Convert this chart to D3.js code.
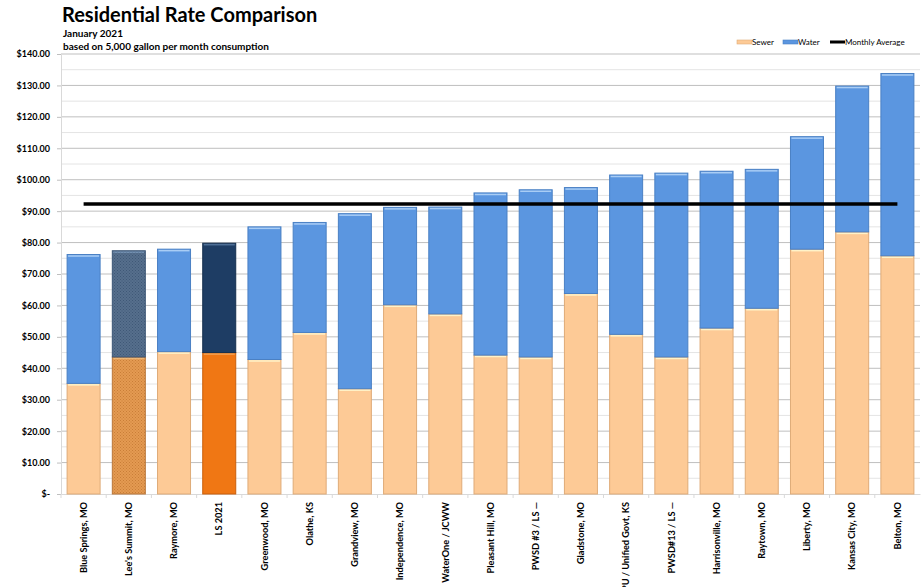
<!DOCTYPE html>
<html>
<head>
<meta charset="utf-8">
<script src="https://cdn.jsdelivr.net/npm/d3@7"></script>
<style>
	body { margin: 0; background: #fff; }
	svg text { font-family: Lato, "Liberation Sans", sans-serif; fill: #000; }
	.title { font-size: 20px; font-weight: bold; }
	.sub { font-size: 10px; font-weight: bold; }
	.tick-y { font-size: 9px; font-weight: bold; }
	.tick-x { font-size: 9.2px; font-weight: bold; }
	.legend { font-size: 8px; }
</style>
</head>
<body>
<div id="chart"></div>
<script>
//----------------
//Data
//----------------
var categories = [
	'Blue Springs, MO', "Lee's Summit, MO", 'Raymore, MO', 'LS 2021', 'Greenwood, MO',
	'Olathe, KS', 'Grandview, MO', 'Independence, MO', 'WaterOne / JCWW', 'Pleasant Hill, MO',
	'PWSD #3 / LS \u2014', 'Gladstone, MO', 'BPU / Unified Govt, KS', 'PWSD#13 / LS \u2014',
	'Harrisonville, MO', 'Raytown, MO', 'Liberty, MO', 'Kansas City, MO', 'Belton, MO'
]
var sewer = [35.2, 43.6, 45.3, 45.0, 42.8, 51.4, 33.5, 60.2, 57.3, 44.2, 43.6, 63.8, 50.8, 43.6, 52.8, 59.1, 77.9, 83.4, 75.8]
var water = [41.0, 33.8, 32.6, 34.8, 42.2, 35.0, 55.7, 31.0, 34.0, 51.6, 53.2, 33.7, 50.7, 58.5, 49.9, 44.2, 35.8, 46.4, 58.0]
var monthlyAverage = [92.3, 92.3, 92.3, 92.3, 92.3, 92.3, 92.3, 92.3, 92.3, 92.3, 92.3, 92.3, 92.3, 92.3, 92.3, 92.3, 92.3, 92.3, 92.3]
var yTicks = [0, 10, 20, 30, 40, 50, 60, 70, 80, 90, 100, 110, 120, 130, 140]

//special colouring for the two Lee's Summit bars
var styleFor = {
	"Lee's Summit, MO": { sewer: 'url(#dotSewer)', water: 'url(#dotWater)', sStroke: '#b9773a', wStroke: '#3c5676' },
	'LS 2021': { sewer: '#f07714', water: '#1e3d64', sStroke: '#c95f0c', wStroke: '#15304f' }
}

var _width = 922,
	_height = 587
var _margin = { left: 61, right: 2, top: 54, bottom: 93 }

var svg = d3.select('#chart').append('svg')
	.attr('width', _width)
	.attr('height', _height)

//patterns
var defs = svg.append('defs')
function _dotPattern(id, bg, dot){
	var p = defs.append('pattern').attr('id', id)
		.attr('width', 3).attr('height', 3)
		.attr('patternUnits', 'userSpaceOnUse')
	p.append('rect').attr('width', 3).attr('height', 3).attr('fill', bg)
	p.append('rect').attr('width', 1).attr('height', 1).attr('fill', dot)
	p.append('rect').attr('x', 1.5).attr('y', 1.5).attr('width', 1).attr('height', 1).attr('fill', dot)
}
_dotPattern('dotSewer', '#e49a52', '#c97e37')
_dotPattern('dotWater', '#566f8c', '#3f5877')

//scales
var x = d3.scaleBand()
	.domain(categories)
	.range([_margin.left, _width - _margin.right])
	.paddingInner(0.27)
	.paddingOuter(0.135)
var y = d3.scaleLinear()
	.domain([0, 140])
	.range([_height - _margin.bottom, _margin.top])

//gridlines, minor then major
var gGrid = svg.append('g')
gGrid.selectAll('line.minor').data(d3.range(5, 140, 10)).enter().append('line')
	.attr('x1', _margin.left).attr('x2', _width - _margin.right)
	.attr('y1', function(d){ return y(d) }).attr('y2', function(d){ return y(d) })
	.attr('stroke', '#e4e4e4').attr('stroke-width', 1)
gGrid.selectAll('line.major').data(yTicks.slice(1)).enter().append('line')
	.attr('x1', _margin.left).attr('x2', _width - _margin.right)
	.attr('y1', function(d){ return y(d) }).attr('y2', function(d){ return y(d) })
	.attr('stroke', '#bfbfbf').attr('stroke-width', 1)

//y axis
var yAxis = d3.axisLeft(y)
	.tickValues(yTicks)
	.tickSize(4)
	.tickSizeOuter(0)
	.tickPadding(7)
	.tickFormat(function(d){ return d === 0 ? '$-' : '$' + d3.format('.2f')(d) })
var gy = svg.append('g')
	.attr('transform', 'translate(' + _margin.left + ',0)')
	.call(yAxis)
gy.select('.domain').attr('stroke', '#d9d9d9')
gy.selectAll('.tick line').attr('stroke', '#bfbfbf')
gy.selectAll('text').attr('class', 'tick-y')

//x axis
var xAxis = d3.axisBottom(x).tickSize(0).tickPadding(0)
var gx = svg.append('g')
	.attr('transform', 'translate(0,' + y(0) + ')')
	.call(xAxis)
gx.select('.domain').attr('stroke', '#d9d9d9')
gx.selectAll('.tick text')
	.attr('class', 'tick-x')
	.attr('transform', 'rotate(-90)')
	.attr('text-anchor', 'end')
	.attr('dy', '0.35em')
	.attr('x', -8)
	.attr('y', 0)
//little separators between categories
gx.selectAll('line.sep').data(categories).enter().append('line')
	.attr('x1', function(d){ return x(d) - x.step() * x.paddingInner() / 2 })
	.attr('x2', function(d){ return x(d) - x.step() * x.paddingInner() / 2 })
	.attr('y1', 0).attr('y2', 4)
	.attr('stroke', '#d9d9d9')

//bars
var gBars = svg.append('g')
var rows = categories.map(function(c, i){
	return { name: c, sewer: sewer[i], water: water[i] }
})
var stack = d3.stack().keys(['sewer', 'water'])(rows)
var fills = { sewer: '#fdca96', water: '#5b96e0' }
var strokes = { sewer: '#dfab78', water: '#4a80c4' }

stack.forEach(function(layer){
	gBars.selectAll('rect.' + layer.key).data(layer).enter().append('rect')
		.attr('class', layer.key)
		.attr('x', function(d){ return x(d.data.name) })
		.attr('width', x.bandwidth())
		.attr('y', function(d){ return y(d[1]) })
		.attr('height', function(d){ return y(d[0]) - y(d[1]) })
		.attr('fill', function(d){
			var s = styleFor[d.data.name]
			return s ? s[layer.key] : fills[layer.key]
		})
		.attr('stroke', function(d){
			var s = styleFor[d.data.name]
			return s ? (layer.key == 'sewer' ? s.sStroke : s.wStroke) : strokes[layer.key]
		})
		.attr('stroke-width', 1)
	//light highlight along the top of each segment
	gBars.selectAll('line.hi-' + layer.key).data(layer).enter().append('line')
		.attr('x1', function(d){ return x(d.data.name) + 1 })
		.attr('x2', function(d){ return x(d.data.name) + x.bandwidth() - 1 })
		.attr('y1', function(d){ return y(d[1]) + 1.5 })
		.attr('y2', function(d){ return y(d[1]) + 1.5 })
		.attr('stroke', layer.key == 'sewer' ? '#fff3c8' : '#a9cdf5')
		.attr('stroke-width', 1.5)
		.attr('opacity', function(d){ return styleFor[d.data.name] ? 0.35 : 1 })
})

//monthly average line
var line = d3.line()
	.x(function(d, i){ return x(categories[i]) + x.bandwidth() / 2 })
	.y(function(d){ return y(d) })
svg.append('path')
	.datum(monthlyAverage)
	.attr('d', line)
	.attr('fill', 'none')
	.attr('stroke', '#000')
	.attr('stroke-width', 3.5)

//titles
svg.append('text').attr('class', 'title').attr('x', 62).attr('y', 22).text('Residential Rate Comparison')
svg.append('text').attr('class', 'sub').attr('x', 63).attr('y', 37).text('January 2021')
svg.append('text').attr('class', 'sub').attr('x', 63).attr('y', 50).text('based on 5,000 gallon per month consumption')

//legend
var legendItems = [
	{ label: 'Sewer', type: 'rect', fill: fills.sewer, stroke: strokes.sewer, x: 737 },
	{ label: 'Water', type: 'rect', fill: fills.water, stroke: strokes.water, x: 783 },
	{ label: 'Monthly Average', type: 'line', x: 830 }
]
var gLeg = svg.append('g').attr('transform', 'translate(0,43)')
legendItems.forEach(function(d){
	if ( d.type == 'rect' ){
		gLeg.append('rect').attr('x', d.x).attr('y', -3).attr('width', 15).attr('height', 4)
			.attr('fill', d.fill).attr('stroke', d.stroke).attr('stroke-width', 0.6)
	} else {
		gLeg.append('line').attr('x1', d.x).attr('x2', d.x + 15).attr('y1', -1).attr('y2', -1)
			.attr('stroke', '#000').attr('stroke-width', 3)
	}
	gLeg.append('text').attr('class', 'legend').attr('x', d.x + 15).attr('y', 2).text(d.label)
})
</script>
</body>
</html>
